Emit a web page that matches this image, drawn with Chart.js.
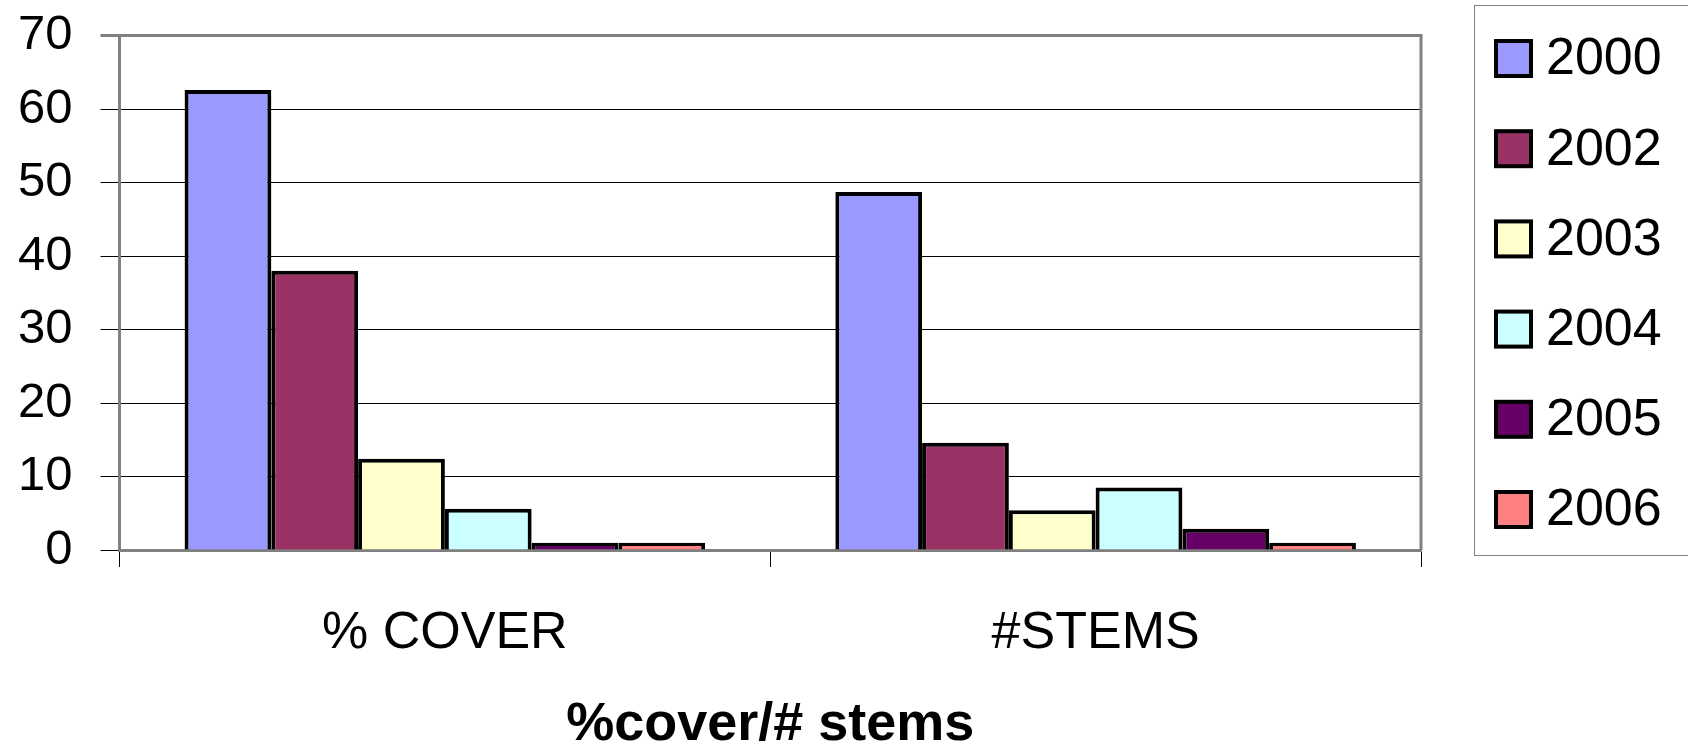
<!DOCTYPE html>
<html>
<head>
<meta charset="utf-8">
<script src="https://cdn.jsdelivr.net/npm/chart.js@4/dist/chart.umd.min.js"></script>
<style>
  html, body { margin: 0; padding: 0; background: #fff; }
  #wrap { width: 1688px; height: 756px; position: relative; }
</style>
</head>
<body>
<div id="wrap"><canvas id="chart"></canvas></div>
<script>
// data
const categories = ["% COVER", "#STEMS"];
const years = ["2000", "2002", "2003", "2004", "2005", "2006"];
const cover = [62.6, 38.0, 12.4, 5.6, 1.0, 1.0];
const stems = [48.7, 14.6, 5.4, 8.5, 2.9, 1.0];
const yTicks = [0, 10, 20, 30, 40, 50, 60, 70];
const fills = ["#9999ff", "#993366", "#ffffcc", "#ccffff", "#660066", "#ff8080"];

const FONT = "'Liberation Sans', Arial, Helvetica, sans-serif";

const datasets = years.map((y, i) => ({
  label: y,
  data: [cover[i], stems[i]],
  backgroundColor: fills[i],
  borderColor: "#000",
  borderWidth: 4,
  borderSkipped: "bottom",
  categoryPercentage: 0.8,
  barPercentage: 1.0,
}));

// right plot border + boxed legend like the old Excel chart
const frame = {
  id: "frame",
  afterDraw(chart) {
    const { ctx, chartArea: a } = chart;
    ctx.save();
    ctx.strokeStyle = "#808080";
    ctx.lineWidth = 3;
    ctx.beginPath();
    ctx.moveTo(a.right, a.top - 1.5);
    ctx.lineTo(a.right, a.bottom);
    ctx.stroke();

    // legend box
    ctx.lineWidth = 1;
    ctx.strokeRect(1474.5, 5.5, 240, 550);
    ctx.font = "52px " + FONT;
    ctx.textBaseline = "middle";
    ctx.textAlign = "left";
    chart.data.datasets.forEach((ds, i) => {
      const cy = 58 + i * 90.2;
      ctx.fillStyle = ds.backgroundColor;
      ctx.fillRect(1496, cy - 17, 35, 35);
      ctx.strokeStyle = "#000";
      ctx.lineWidth = 4;
      ctx.strokeRect(1496, cy - 17, 35, 35);
      ctx.fillStyle = "#000";
      ctx.fillText(ds.label, 1546, cy + 2);
    });
    ctx.restore();
  },
};

new Chart(document.getElementById("chart"), {
  type: "bar",
  data: { labels: categories, datasets },
  plugins: [frame],
  options: {
    responsive: true,
    maintainAspectRatio: false,
    animation: false,
    layout: { padding: { left: 0, right: 267, top: 35.5, bottom: 0 } },
    plugins: { legend: { display: false }, tooltip: { enabled: false } },
    scales: {
      x: {
        afterFit: (s) => { s.height = 206; },
        grid: { drawOnChartArea: false, drawTicks: true, tickLength: 17, color: "#000", lineWidth: 1, offset: true },
        border: { color: "#808080", width: 3 },
        ticks: { color: "#000", font: { family: FONT, size: 52 }, padding: 35 },
        title: {
          display: true,
          text: "%cover/# stems",
          color: "#000",
          font: { family: FONT, size: 54, weight: "bold", lineHeight: 1 },
          padding: { top: 0, bottom: 4 },
        },
      },
      y: {
        min: 0,
        max: 70,
        afterFit: (s) => { s.width = 119.5; s.paddingTop = 0; },
        afterBuildTicks: (s) => { s.ticks = yTicks.map((v) => ({ value: v })); },
        grid: {
          tickLength: 19,
          color: (c) => (c.tick && c.tick.value === 70 ? "#808080" : "#000"),
          lineWidth: (c) => (c.tick && c.tick.value === 70 ? 3 : 1),
        },
        border: { color: "#808080", width: 3 },
        ticks: { color: "#000", font: { family: FONT, size: 49 }, padding: 28 },
      },
    },
  },
});
</script>
</body>
</html>
